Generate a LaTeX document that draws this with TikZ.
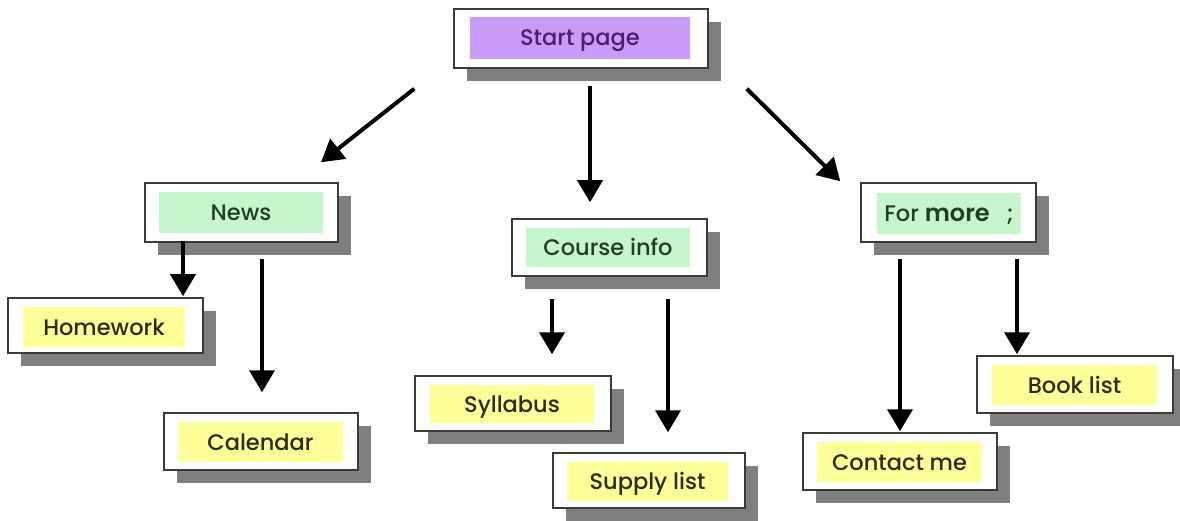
\documentclass[tikz,border=0pt]{standalone}
\usepackage{fontspec}
\setmainfont{Poppins}[UprightFont={* Medium},BoldFont={* SemiBold}]
\usetikzlibrary{arrows.meta,shadows}
\definecolor{boxline}{HTML}{3A3A3A}
\definecolor{shadowgray}{HTML}{7F7F7F}
\definecolor{lav}{HTML}{C99CF7}
\definecolor{mint}{HTML}{C8F6CC}
\definecolor{lemon}{HTML}{FFFF99}
\definecolor{purpletext}{HTML}{4A1F6E}
\definecolor{greentext}{HTML}{1E4022}
\definecolor{olivetext}{HTML}{2C2C12}
\tikzset{
  outerbox/.style={draw=boxline, line width=1.5pt, fill=white, rectangle, inner sep=0pt,
    general shadow={fill=shadowgray, shadow xshift=13pt, shadow yshift=-13pt}},
  innerbox/.style={rectangle, inner sep=0pt, font=\fontsize{22.5}{26}\selectfont,
    text height=18pt, text depth=2pt},
  purplebox/.style={innerbox, fill=lav, text=purpletext},
  greenbox/.style={innerbox, fill=mint, text=greentext},
  yellowbox/.style={innerbox, fill=lemon, text=olivetext},
  arr/.style={line width=4pt, -{Triangle[length=22pt,width=25pt]}},
}
\begin{document}
\begin{tikzpicture}[x=1pt,y=-1pt]
\useasboundingbox[fill=white] (0,0) rectangle (1180,521);
% Start page
\node[outerbox, minimum width=254pt, minimum height=59pt] (start) at (581,38.5) {};
\node[purplebox, minimum width=220pt, minimum height=42pt] (starttxt) at (580,38) {Start page};
% News
\node[outerbox, minimum width=193pt, minimum height=59pt] (news) at (241.5,212.5) {};
\node[greenbox, minimum width=164pt, minimum height=41pt] (newstxt) at (241,212.5) {News};
% Homework
\node[outerbox, minimum width=195pt, minimum height=55pt] (homework) at (105.5,325.5) {};
\node[yellowbox, minimum width=162pt, minimum height=40pt] (homeworktxt) at (104,327) {Homework};
% Calendar
\node[outerbox, minimum width=194pt, minimum height=57pt] (calendar) at (261,441.5) {};
\node[yellowbox, minimum width=165pt, minimum height=40pt] (calendartxt) at (260.5,442) {Calendar};
% Course info
\node[outerbox, minimum width=195pt, minimum height=57pt] (course) at (609.5,247.5) {};
\node[greenbox, minimum width=164pt, minimum height=39pt] (coursetxt) at (608,247.5) {Course info};
% Syllabus
\node[outerbox, minimum width=196pt, minimum height=55pt] (syllabus) at (513,403.5) {};
\node[yellowbox, minimum width=164pt, minimum height=38pt] (syllabustxt) at (512,404) {Syllabus};
% Supply list
\node[outerbox, minimum width=192pt, minimum height=55pt] (supply) at (649,480.5) {};
\node[yellowbox, minimum width=161pt, minimum height=39pt] (supplytxt) at (647.5,481.5) {Supply list};
% For more
\node[outerbox, minimum width=175pt, minimum height=59pt] (formore) at (948.5,212.5) {};
\node[greenbox, minimum width=144pt, minimum height=41pt] (formoretxt) at (949,213.5) {For {\fontsize{24}{26}\selectfont\bfseries more}\hspace{17pt};};
% Book list
\node[outerbox, minimum width=196pt, minimum height=57pt] (book) at (1075,384.5) {};
\node[yellowbox, minimum width=165pt, minimum height=40pt] (booktxt) at (1074.5,385) {Book list};
% Contact me
\node[outerbox, minimum width=194pt, minimum height=57pt] (contact) at (900,461.5) {};
\node[yellowbox, minimum width=165pt, minimum height=40pt] (contacttxt) at (899.5,462) {Contact me};
% Connectors
\draw[arr] ([xshift=-39pt,yshift=-20pt]start.south west) -- ([xshift=79.5pt,yshift=20pt]news.north);
\draw[arr] ([xshift=9pt,yshift=-17pt]start.south) -- ([xshift=-19.5pt,yshift=16pt]course.north);
\draw[arr] ([xshift=38pt,yshift=-20pt]start.south east) -- ([xshift=-20pt,yshift=1pt]formore.north west);
\draw[arr] ([xshift=-58.5pt,yshift=2pt]news.south) -- ([xshift=77.5pt,yshift=1pt]homework.north);
\draw[arr] ([xshift=20.5pt,yshift=-16pt]news.south) -- ([xshift=1pt,yshift=20pt]calendar.north);
\draw[arr] ([xshift=-57.5pt,yshift=-22pt]course.south) -- ([xshift=39pt,yshift=21pt]syllabus.north);
\draw[arr] ([xshift=58.5pt,yshift=-22pt]course.south) -- ([xshift=19pt,yshift=20pt]supply.north);
\draw[arr] ([xshift=-48.5pt,yshift=-16pt]formore.south) -- ([yshift=1pt]contact.north);
\draw[arr] ([xshift=68.5pt,yshift=-16pt]formore.south) -- ([xshift=-58pt,yshift=1pt]book.north);
\end{tikzpicture}
\end{document}
